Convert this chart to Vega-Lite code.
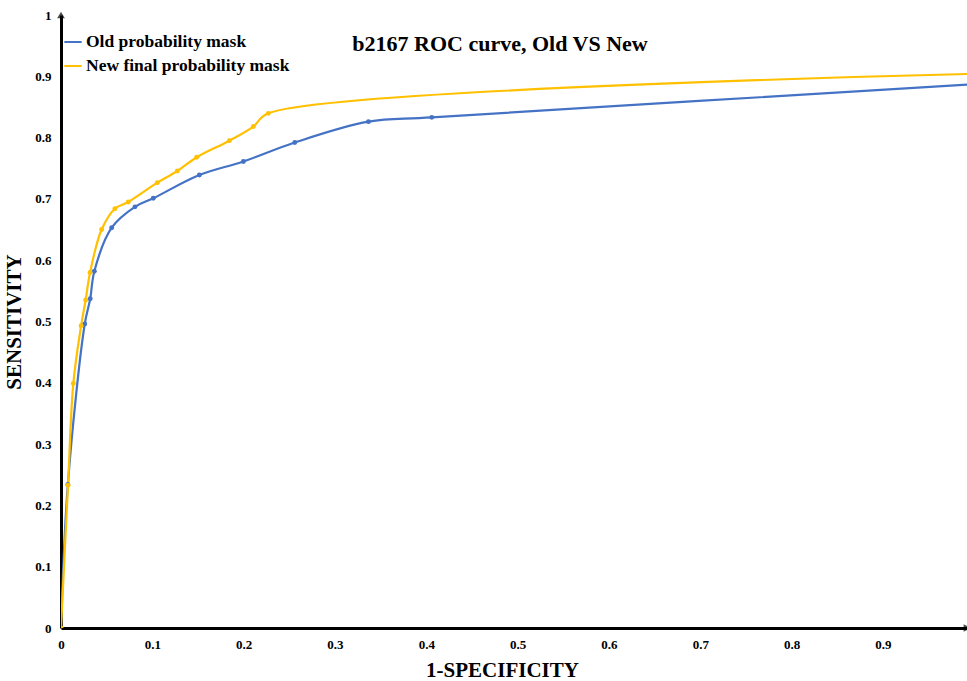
{
  "$schema": "https://vega.github.io/schema/vega-lite/v6.json",
  "width": 906,
  "height": 613,
  "autosize": {"type": "none"},
  "padding": {"left": 61, "top": 15, "right": 0, "bottom": 53},
  "background": "white",
  "config": {
    "view": {"stroke": null},
    "font": "Liberation Serif"
  },
  "title": {
    "text": "b2167 ROC curve, Old VS New",
    "font": "Liberation Serif",
    "fontSize": 22,
    "fontWeight": "bold",
    "color": "#000000",
    "anchor": "middle",
    "frame": "group",
    "dx": -14,
    "dy": 51
  },
  "datasets": {
    "roc": [
      {"series": "Old probability mask", "x": 0, "y": 0},
      {"series": "Old probability mask", "x": 0.0075, "y": 0.234},
      {"series": "Old probability mask", "x": 0.026, "y": 0.496},
      {"series": "Old probability mask", "x": 0.032, "y": 0.537},
      {"series": "Old probability mask", "x": 0.0365, "y": 0.582},
      {"series": "Old probability mask", "x": 0.0555, "y": 0.653},
      {"series": "Old probability mask", "x": 0.081, "y": 0.687},
      {"series": "Old probability mask", "x": 0.101, "y": 0.701},
      {"series": "Old probability mask", "x": 0.1515, "y": 0.739},
      {"series": "Old probability mask", "x": 0.1997, "y": 0.761},
      {"series": "Old probability mask", "x": 0.256, "y": 0.792},
      {"series": "Old probability mask", "x": 0.3366, "y": 0.826},
      {"series": "Old probability mask", "x": 0.406, "y": 0.833},
      {"series": "Old probability mask", "x": 1, "y": 0.887},
      {"series": "New final probability mask", "x": 0, "y": 0},
      {"series": "New final probability mask", "x": 0.0077, "y": 0.233},
      {"series": "New final probability mask", "x": 0.0135, "y": 0.399},
      {"series": "New final probability mask", "x": 0.022, "y": 0.493},
      {"series": "New final probability mask", "x": 0.027, "y": 0.535},
      {"series": "New final probability mask", "x": 0.0318, "y": 0.58},
      {"series": "New final probability mask", "x": 0.0445, "y": 0.65},
      {"series": "New final probability mask", "x": 0.059, "y": 0.684},
      {"series": "New final probability mask", "x": 0.0737, "y": 0.695},
      {"series": "New final probability mask", "x": 0.1055, "y": 0.7265},
      {"series": "New final probability mask", "x": 0.1274, "y": 0.7455},
      {"series": "New final probability mask", "x": 0.1486, "y": 0.768},
      {"series": "New final probability mask", "x": 0.1844, "y": 0.795},
      {"series": "New final probability mask", "x": 0.2106, "y": 0.818},
      {"series": "New final probability mask", "x": 0.227, "y": 0.8396},
      {"series": "New final probability mask", "x": 1, "y": 0.904}
    ],
    "arrows": [
      {"x": 0, "y": 1.0, "shape": "triangle-up"},
      {"x": 0.992, "y": 0, "shape": "triangle-right"}
    ]
  },
  "layer": [
    {
      "data": {"name": "roc"},
      "mark": {
        "type": "line",
        "interpolate": "catmull-rom",
        "strokeWidth": 2.2,
        "clip": true,
        "point": {"filled": true, "size": 24}
      },
      "encoding": {
        "x": {
          "field": "x",
          "type": "quantitative",
          "scale": {"domain": [0, 0.992], "nice": false, "zero": false},
          "axis": {
            "values": [0, 0.1, 0.2, 0.3, 0.4, 0.5, 0.6, 0.7, 0.8, 0.9],
            "format": "~g",
            "title": "1-SPECIFICITY",
            "titleFont": "Liberation Serif",
            "titleFontSize": 21,
            "titleFontWeight": "bold",
            "titleColor": "#000000",
            "titlePadding": 8,
            "titleX": 441,
            "labelFont": "Liberation Serif",
            "labelFontSize": 13,
            "labelFontWeight": "bold",
            "labelColor": "#000000",
            "labelPadding": 10,
            "ticks": false,
            "grid": false,
            "domainColor": "#000000",
            "domainWidth": 3,
            "labelFlush": false
          }
        },
        "y": {
          "field": "y",
          "type": "quantitative",
          "scale": {"domain": [0, 1], "nice": false},
          "axis": {
            "values": [0, 0.1, 0.2, 0.3, 0.4, 0.5, 0.6, 0.7, 0.8, 0.9, 1],
            "format": "~g",
            "title": "SENSITIVITY",
            "titleFont": "Liberation Serif",
            "titleFontSize": 21,
            "titleFontWeight": "bold",
            "titleColor": "#000000",
            "titlePadding": 10,
            "labelFont": "Liberation Serif",
            "labelFontSize": 13,
            "labelFontWeight": "bold",
            "labelColor": "#000000",
            "labelPadding": 10,
            "ticks": false,
            "grid": false,
            "domainColor": "#000000",
            "domainWidth": 3,
            "labelFlush": false
          }
        },
        "color": {
          "field": "series",
          "type": "nominal",
          "scale": {
            "domain": ["Old probability mask", "New final probability mask"],
            "range": ["#4472C4", "#FFC000"]
          },
          "legend": {
            "title": null,
            "orient": "none",
            "legendX": 2,
            "legendY": 17,
            "labelFont": "Liberation Serif",
            "labelFontSize": 17.5,
            "labelFontWeight": "bold",
            "labelColor": "#000000",
            "labelLimit": 400,
            "symbolType": "stroke",
            "symbolStrokeWidth": 2,
            "symbolSize": 300,
            "labelOffset": 3,
            "rowPadding": 5
          }
        }
      }
    },
    {
      "data": {"name": "arrows"},
      "mark": {"type": "point", "filled": true, "color": "#000000", "size": 60, "clip": false},
      "encoding": {
        "x": {"field": "x", "type": "quantitative"},
        "y": {"field": "y", "type": "quantitative"},
        "shape": {"field": "shape", "type": "nominal", "scale": null, "legend": null}
      }
    },
    {
      "mark": {"type": "rule", "color": "#000000", "strokeWidth": 3, "clip": false},
      "encoding": {
        "y": {"datum": 1, "type": "quantitative"}
      }
    }
  ]
}
